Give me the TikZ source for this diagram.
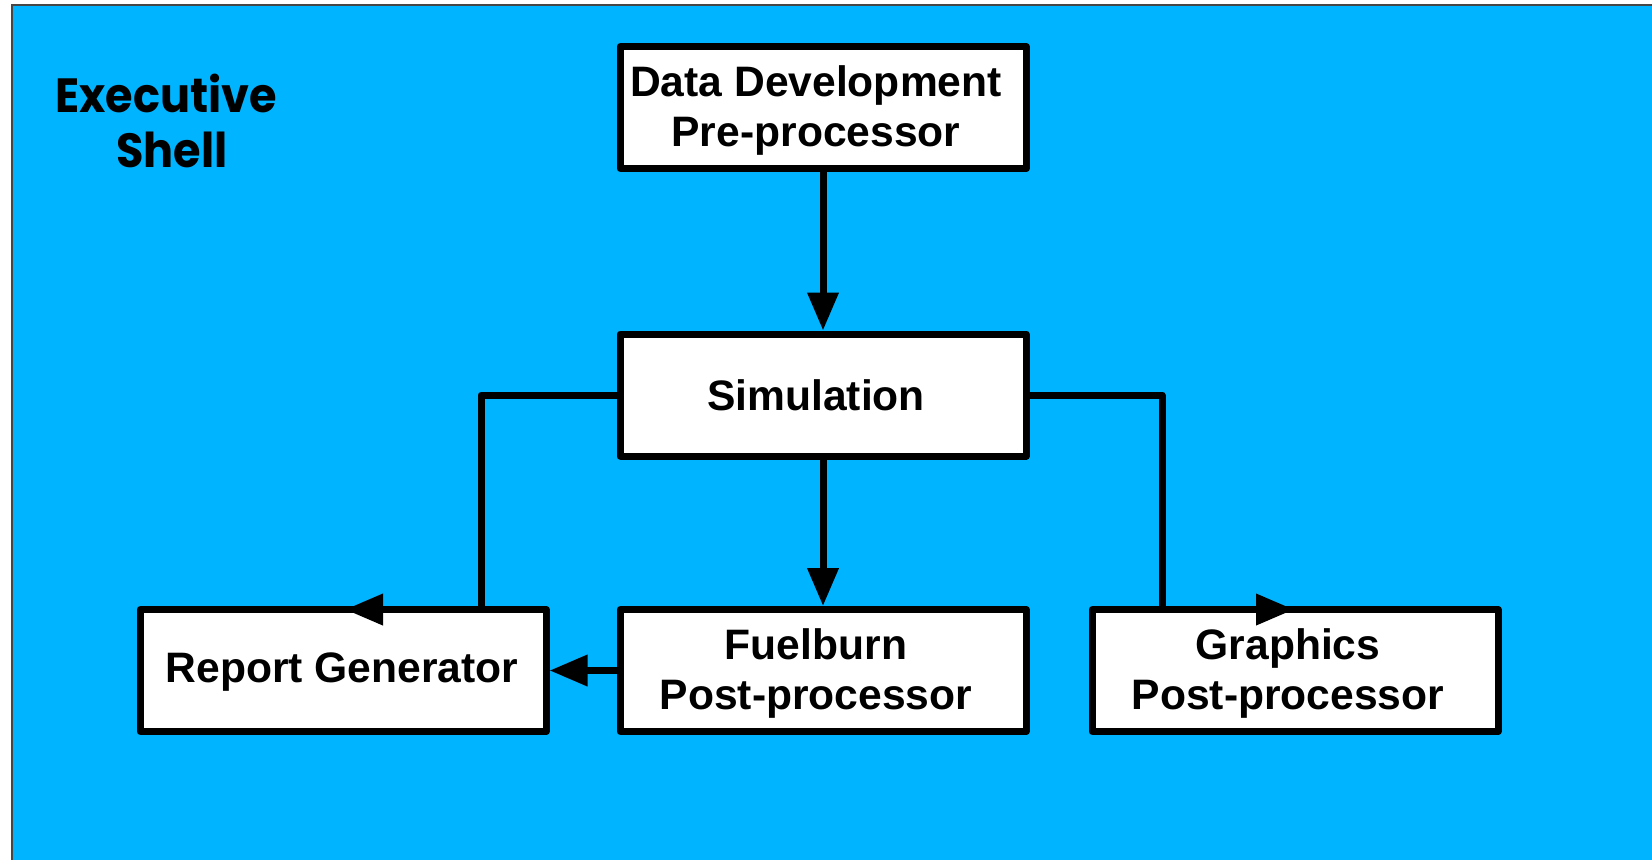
\documentclass[tikz,border=0pt]{standalone}
\usepackage{fontspec}
\setmainfont{Liberation Sans}
\newfontfamily\gothic[FakeStretch=0.93]{Poppins}
\usetikzlibrary{arrows.meta}
\definecolor{bgblue}{RGB}{0,180,255}
\definecolor{frame}{RGB}{70,70,70}
\tikzset{
  box/.style={draw=black, fill=white, line width=3.5pt, line join=round, inner sep=0pt,
    minimum width=203pt, minimum height=61pt},
  txt/.style={font=\fontsize{21.3pt}{25pt}\selectfont\bfseries, align=center, inner sep=0pt},
  conn/.style={draw=black, line width=3.5pt, -{Triangle[width=15pt,length=19pt]}},
  title/.style={font=\gothic\fontsize{24pt}{27.5pt}\selectfont\bfseries, align=center, inner sep=0pt}
}
\begin{document}
\begin{tikzpicture}[x=0.5pt,y=-0.5pt]
\useasboundingbox (0,0) rectangle (1652,859);
\fill[white] (0,0) rectangle (1652,859);
\begin{scope}
\clip (0,0) rectangle (1652,859);
\draw[frame, fill=bgblue, line width=1pt] (12,5) rectangle (1670,880);
\end{scope}
\node[title] (shell) at (166,121) {Executive\\\hspace*{6pt}Shell};
\node[box] (dd) at (823,107.5) {};
\node[box] (sim) at (823,395) {};
\node[box] (rg) at (343,670.5) {};
\node[box] (fb) at (823,670.5) {};
\node[box] (gp) at (1295,670.5) {};
\node[txt] (ddt) at ([xshift=-3.5pt,yshift=-1.5pt]dd.center) {Data Development\\Pre-processor};
\node[txt] (simt) at ([xshift=-3.5pt]sim.center) {Simulation};
\node[txt] (rgt) at ([xshift=-0.5pt,yshift=-1pt]rg.center) {Report Generator};
\node[txt] (fbt) at ([xshift=-3.5pt,yshift=-1.5pt]fb.center) {Fuelburn\\Post-processor};
\node[txt] (gpt) at ([xshift=-3.5pt,yshift=-1.5pt]gp.center) {Graphics\\Post-processor};
\coordinate (lc) at (481,609.5);
\coordinate (ltip) at (345,609.5);
\coordinate (rc) at (1162,609.5);
\coordinate (rtip) at (1294,609.5);
\draw[conn] (dd.south) -- (sim.north);
\draw[conn] (sim.south) -- (fb.north);
\draw[conn] (fb.west) -- (rg.east);
\draw[conn, line join=round] (sim.west) -| (lc) -- (ltip);
\draw[conn, line join=round] (sim.east) -| (rc) -- (rtip);
\end{tikzpicture}
\end{document}
